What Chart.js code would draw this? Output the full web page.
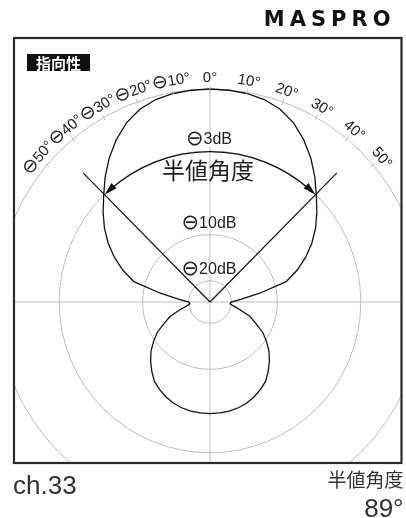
<!DOCTYPE html>
<html><head><meta charset="utf-8">
<script src="https://cdn.jsdelivr.net/npm/chart.js@4/dist/chart.umd.min.js"></script>
<style>
html,body{margin:0;padding:0;background:#fff;overflow:hidden;width:406px;height:518px;}
#wrap{position:absolute;left:-20px;top:0;width:446px;height:518px;}
</style></head><body>
<div id="wrap"><canvas id="c" width="446" height="518"></canvas></div>
<script>
// ---- data ----
const angleLabels = ['0','5','10','15','20','25','30','35','40','45','50','55','60','65','70','75','80','85',
  '90','95','100','105','110','115','120','125','130','135','140','145','150','155','160','165','170','175',
  '180','185','190','195','200','205','210','215','220','225','230','235','240','245','250','255','260','265',
  '270','275','280','285','290','295','300','305','310','315','320','325','330','335','340','345','350','355'];
// relative field strength (1 = 0 dB)
const pattern = [1.000,0.998,0.994,0.984,0.963,0.928,0.880,0.825,0.766,0.706,0.655,0.605,0.552,0.495,0.435,0.370,0.237,0.145,
  0.099,0.095,0.113,0.150,0.200,0.237,0.286,0.324,0.362,0.394,0.425,0.455,0.474,0.491,0.505,0.514,0.520,0.523,
  0.524,0.523,0.520,0.514,0.505,0.491,0.474,0.455,0.425,0.394,0.362,0.324,0.286,0.237,0.200,0.150,0.113,0.095,
  0.099,0.145,0.237,0.370,0.435,0.495,0.552,0.605,0.655,0.706,0.766,0.825,0.880,0.928,0.963,0.984,0.994,0.998];
const gridDb = [-20, -10, -3, 0];
const dbLabelValues = [-3, -10, -20];
const dbLabels = ['⊖3dB', '⊖10dB', '⊖20dB'];
const angleTickDeg = [-50, -40, -30, -20, -10, 0, 10, 20, 30, 40, 50];
const angleTickLabels = ['⊖50°', '⊖40°', '⊖30°', '⊖20°', '⊖10°', '0°', '10°', '20°', '30°', '40°', '50°'];
const halfPowerAngle = 89;
const halfPowerTitle = '半値角度';
const channelLabel = 'ch.33';
const brand = 'MASPRO';
const panelTitle = '指向性';

const dbToField = d => Math.pow(10, d / 20);
const rad = d => d * Math.PI / 180;

function polar(s, deg, dist) {
  return { x: s.xCenter + dist * Math.sin(rad(deg)), y: s.yCenter - dist * Math.cos(rad(deg)) };
}
function frameRect(s) {
  return { l: s.xCenter - 196, r: s.xCenter + 191.5, t: s.yCenter - 264, b: s.yCenter + 161 };
}
const CJK = '"Noto Sans CJK JP", "Noto Sans CJK SC", sans-serif';
const LAT = '"Liberation Sans", Arimo, sans-serif';
const SYM = '"DejaVu Sans", sans-serif';

// draw a label whose leading "⊖" uses a symbol font, centred at (x, y)
function drawLabel(c, text, x, y, size, symSize) {
  const parts = [];
  if (text.charAt(0) === '⊖') {
    parts.push({ t: '⊖', f: symSize + 'px ' + SYM, gap: 0 });
    parts.push({ t: text.slice(1), f: size + 'px ' + LAT, gap: 0 });
  } else {
    parts.push({ t: text, f: size + 'px ' + LAT, gap: 0 });
  }
  let total = 0;
  parts.forEach(p => { c.font = p.f; p.w = c.measureText(p.t).width; total += p.w + p.gap; });
  let cx = x - total / 2;
  c.textAlign = 'left'; c.textBaseline = 'middle';
  parts.forEach(p => { c.font = p.f; c.fillText(p.t, cx, y); cx += p.w + p.gap; });
  return total;
}

const framePlugin = {
  id: 'frame',
  beforeDraw(chart) {
    const s = chart.scales.r, f = frameRect(s), c = chart.ctx;
    c.save();
    c.beginPath();
    c.rect(f.l, f.t, f.r - f.l, f.b - f.t);
    c.clip();
  },
  afterDatasetsDraw(chart) {
    const s = chart.scales.r, c = chart.ctx;
    const R = s.getDistanceFromCenterForValue(1);
    c.save();
    // angle ticks
    c.strokeStyle = '#bdbdbd'; c.lineWidth = 1;
    angleTickDeg.forEach(a => {
      const p1 = polar(s, a, R - 3), p2 = polar(s, a, R + 3);
      c.beginPath(); c.moveTo(p1.x, p1.y); c.lineTo(p2.x, p2.y); c.stroke();
    });
    // angle labels
    c.fillStyle = '#222';
    angleTickDeg.forEach((a, i) => {
      const p = polar(s, a, R + 11);
      c.save(); c.translate(p.x, p.y); c.rotate(rad(a));
      drawLabel(c, angleTickLabels[i], 0, 0, 15, 19);
      c.restore();
    });
    // dB labels with white backdrop
    dbLabelValues.forEach((d, i) => {
      const r = s.getDistanceFromCenterForValue(dbToField(d)) + 11.5;
      const y = s.yCenter - r;
      c.font = '16px ' + LAT;
      const w = c.measureText(dbLabels[i]).width + 6;
      c.fillStyle = '#fff';
      c.fillRect(s.xCenter - w / 2 - 1, y - 7, w + 2, 14);
      c.fillStyle = '#222';
      drawLabel(c, dbLabels[i], s.xCenter - 1, y, 16, 21);
    });
    // half-power lines
    const h = halfPowerAngle / 2;
    const Lr = s.getDistanceFromCenterForValue(0.85);
    c.strokeStyle = '#111'; c.lineWidth = 1.2;
    [-h, h].forEach(a => {
      const p = polar(s, a, Lr);
      c.beginPath(); c.moveTo(s.xCenter, s.yCenter); c.lineTo(p.x, p.y); c.stroke();
    });
    // arc with arrows on the -3 dB circle
    const ar = s.getDistanceFromCenterForValue(dbToField(-3)) - 0.5;
    c.beginPath();
    c.arc(s.xCenter, s.yCenter, ar, rad(-h - 90 + 3), rad(h - 90 - 3));
    c.stroke();
    c.fillStyle = '#111';
    [[h, 1], [-h, -1]].forEach(([a, sgn]) => {
      const tip = polar(s, a, ar);
      const dx = sgn * Math.cos(rad(a)), dy = sgn * Math.sin(rad(a));
      const L = 13, W = 3.6;
      const bx = tip.x - dx * L, by = tip.y - dy * L;
      c.beginPath();
      c.moveTo(tip.x, tip.y);
      c.lineTo(bx - dy * W, by + dx * W);
      c.lineTo(bx + dy * W, by - dx * W);
      c.closePath(); c.fill();
    });
    // half-power title
    c.font = '23px ' + CJK;
    c.fillStyle = '#222';
    c.textAlign = 'center'; c.textBaseline = 'middle';
    c.fillText(halfPowerTitle, s.xCenter - 2, s.yCenter - 132);
    // panel title box
    const f = frameRect(s);
    c.fillStyle = '#111';
    c.fillRect(f.l + 13, f.t + 16, 63, 17);
    c.fillStyle = '#fff';
    c.font = 'bold 15px ' + CJK;
    c.fillText(panelTitle, f.l + 13 + 31.5, f.t + 16 + 9);
    c.restore();
  },
  afterDraw(chart) {
    const s = chart.scales.r, c = chart.ctx, f = frameRect(s);
    c.restore();
    c.save();
    c.strokeStyle = '#2a2a2a'; c.lineWidth = 2.2;
    c.strokeRect(f.l, f.t, f.r - f.l, f.b - f.t);
    // brand
    c.fillStyle = '#111';
    c.font = 'bold 21px "DejaVu Sans", sans-serif';
    c.textAlign = 'right'; c.textBaseline = 'alphabetic';
    try { c.letterSpacing = '5px'; } catch (e) {}
    c.fillText(brand, f.r - 6, f.t - 12);
    try { c.letterSpacing = '0px'; } catch (e) {}
    // channel
    c.fillStyle = '#333';
    c.textAlign = 'left';
    c.font = '26px ' + LAT;
    c.fillText(channelLabel, f.l - 1, f.b + 31);
    // half-power angle
    c.textAlign = 'right';
    c.font = '19px ' + CJK;
    c.textBaseline = 'middle';
    c.fillText(halfPowerTitle, f.r + 2, f.b + 17);
    c.textBaseline = 'alphabetic';
    c.font = '26px ' + LAT;
    c.fillText(halfPowerAngle + '°', f.r + 2, f.b + 54);
    c.restore();
  }
};

new Chart(document.getElementById('c').getContext('2d'), {
  type: 'radar',
  data: {
    labels: angleLabels,
    datasets: [{ data: pattern, borderColor: '#111', borderWidth: 1.3, pointRadius: 0, fill: false, tension: 0 }]
  },
  options: {
    responsive: false, animation: false, devicePixelRatio: 1,
    layout: { padding: { left: 17, right: 3, top: 89, bottom: 3 } },
    plugins: { legend: { display: false }, tooltip: { enabled: false } },
    scales: {
      r: {
        min: 0, max: 1, startAngle: 0,
        afterBuildTicks: sc => { sc.ticks = [0].concat(gridDb.map(dbToField)).map(v => ({ value: v })); },
        ticks: { display: false },
        pointLabels: { display: false },
        grid: { circular: true, color: '#bdbdbd', lineWidth: 1 },
        angleLines: { display: true, lineWidth: 1, color: cx => (cx.index % 18 === 0 ? '#bdbdbd' : 'rgba(0,0,0,0)') }
      }
    }
  },
  plugins: [framePlugin]
});
</script>
</body></html>
